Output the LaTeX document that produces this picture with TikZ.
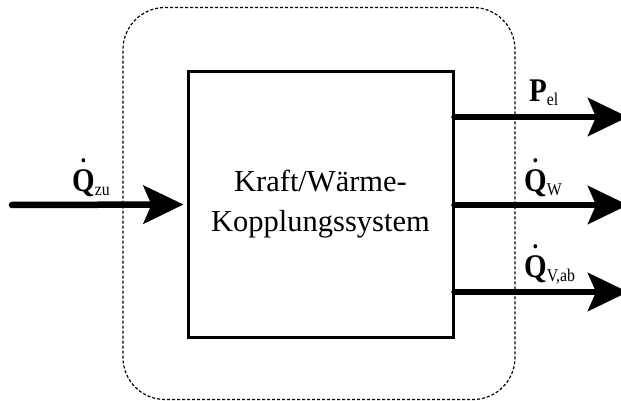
\documentclass[tikz,border=0pt]{standalone}
\usepackage{fontspec}
\setmainfont{Liberation Serif}
\newfontfamily\labfont[FakeStretch=0.88]{Liberation Serif}
\usetikzlibrary{arrows.meta}
\newcommand\qdot{{\ooalign{Q\cr\hidewidth\raisebox{29pt}{\fontsize{26}{26}\selectfont\bfseries .}\hidewidth\cr}}}
\newcommand\lsub[1]{\raisebox{-4pt}{\fontsize{18}{18}\selectfont\mdseries #1}}
\begin{document}
\begin{tikzpicture}[x=1pt,y=-1pt,
  flow/.style={line width=6.5pt, line cap=round, -{Stealth[length=40pt,width=38pt,inset=8pt]}},
  frame/.style={draw, line width=1.2pt, dash pattern=on 3pt off 2pt, rounded corners=42pt, inner sep=0pt, outer sep=0pt},
  kwk/.style={draw, line width=3pt, inner sep=0pt, align=center, font=\fontsize{30.5}{40}\selectfont},
  lab/.style={anchor=base west, inner sep=0pt, font=\labfont\fontsize{33}{33}\selectfont\bfseries}]
\useasboundingbox (0,0) rectangle (621,401);
\node[frame, minimum width=392pt, minimum height=392pt] (frame) at (319,203.5) {};
\node[kwk, minimum width=265pt, minimum height=265pt] (box) at (320.5,204.5) {Kraft/Wärme-\\Kopplungssystem};
\coordinate (src) at (12,205);
\coordinate (o1) at (628,117);
\coordinate (o2) at (628,205);
\coordinate (o3) at (628,292);
\draw[flow] (src) -- ([xshift=-3pt]box.west);
\draw[flow] (box.east |- o1) -- (o1);
\draw[flow] (box.east |- o2) -- (o2);
\draw[flow] (box.east |- o3) -- (o3);
\node[lab] (qzu) at (72,191) {\qdot\lsub{zu}};
\node[lab] (pel) at (529,102) {P\lsub{el}};
\node[lab] (qw) at (524,191) {\qdot\lsub{W}};
\node[lab] (qvab) at (524,277) {\qdot\lsub{V,ab}};
\end{tikzpicture}
\end{document}
